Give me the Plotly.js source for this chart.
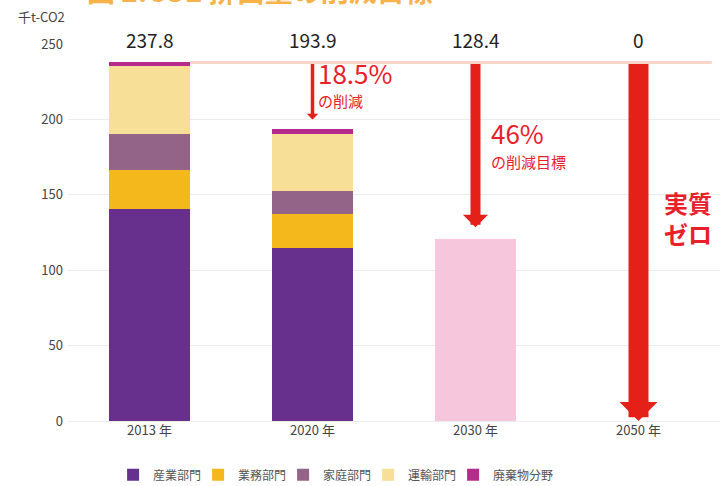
<!DOCTYPE html>
<html>
<head>
<meta charset="utf-8">
<script src="https://cdn.plot.ly/plotly-3.0.1.min.js"></script>
<style>html,body{margin:0;padding:0;background:#fff;}#chart{width:725px;height:486px;}</style>
</head>
<body>
<div id="chart"></div>
<script>
// ---- data ----
const years = ['2013 年', '2020 年', '2030 年', '2050 年'];
const stackYears = ['2013 年', '2020 年'];
const sectorNames = ['産業部門', '業務部門', '家庭部門', '運輸部門', '廃棄物分野'];
const industry = [140.5, 115.0];
const business = [26.0, 22.5];
const household = [24.0, 15.0];
const transport = [45.0, 38.0];
const waste = [2.3, 3.4];
const targetYear = ['2030 年'];
const target2030Bar = [120.5];
const totalLabels = ['237.8', '193.9', '128.4', '0'];
const totalValues = [237.8, 193.9, 128.4, 0];

const sectorColors = ['#66308c', '#f4b81c', '#946488', '#f7df97', '#b52a8a'];
const sectorValues = [industry, business, household, transport, waste];
const red = '#e52019';
const font = '"Noto Sans CJK JP", "Noto Sans", sans-serif';

const traces = sectorNames.map((name, i) => ({
  type: 'bar', name: name, x: stackYears, y: sectorValues[i],
  marker: {color: sectorColors[i], line: {width: 0}},
  hoverinfo: 'skip'
}));
traces.push({
  type: 'bar', name: '2030目標', x: targetYear, y: target2030Bar,
  marker: {color: '#f5c6dc', line: {width: 0}}, showlegend: false, hoverinfo: 'skip'
});
// invisible spacer entry so the last legend label is not clipped
traces.push({
  type: 'bar', name: '\u00a0', x: [years[0]], y: [0], visible: 'legendonly',
  marker: {color: 'rgba(0,0,0,0)', line: {width: 0}}, hoverinfo: 'skip'
});

const annotations = [];
// totals above bars
years.forEach((yr, i) => {
  annotations.push({
    x: yr, y: 250, xref: 'x', yref: 'y', text: totalLabels[i], showarrow: false,
    yanchor: 'middle', yshift: 5, font: {size: 19, color: '#222', family: font}
  });
});
// arrows
const arrowDefs = [
  {yr: years[1], tip: 200, w: 3.5, s: 0.55},
  {yr: years[2], tip: totalValues[2], w: 10, s: 0.42},
  {yr: years[3], tip: totalValues[3], w: 20, s: 0.317}
];
arrowDefs.forEach(a => {
  annotations.push({
    x: a.yr, y: a.tip, xref: 'x', yref: 'y', ax: a.yr, ay: totalValues[0], axref: 'x', ayref: 'y',
    text: '', showarrow: true, arrowhead: 1, arrowwidth: a.w, arrowsize: a.s, arrowcolor: red
  });
});
// reduction texts
const txtRed = '#e8202a';
annotations.push({x: years[1], y: 231.4, xref: 'x', yref: 'y', xanchor: 'left', yanchor: 'middle', xshift: 3,
  text: '18.5%', showarrow: false, font: {size: 26, color: txtRed, family: font}});
annotations.push({x: years[1], y: 212.4, xref: 'x', yref: 'y', xanchor: 'left', yanchor: 'middle', xshift: 3,
  text: 'の削減', showarrow: false, font: {size: 15, color: txtRed, family: font}});
annotations.push({x: years[2], y: 191.0, xref: 'x', yref: 'y', xanchor: 'left', yanchor: 'middle', xshift: 13,
  text: '46%', showarrow: false, font: {size: 26, color: txtRed, family: font}});
annotations.push({x: years[2], y: 171.8, xref: 'x', yref: 'y', xanchor: 'left', yanchor: 'middle', xshift: 13,
  text: 'の削減目標', showarrow: false, font: {size: 15, color: txtRed, family: font}});
annotations.push({x: years[3], y: 134.9, xref: 'x', yref: 'y', xanchor: 'left', yanchor: 'middle', xshift: 23,
  text: '<b>実質<br>ゼロ</b>', align: 'left', showarrow: false, font: {size: 24, color: txtRed, family: font}});
// unit
annotations.push({x: -0.005, y: 1.072, xref: 'paper', yref: 'paper', xanchor: 'right', yanchor: 'middle', xshift: 2,
  text: '千t-CO2', showarrow: false, font: {size: 13, color: '#444', family: font}});
// cut-off title
annotations.push({x: 0.026, y: 1.1326, xref: 'paper', yref: 'paper', xanchor: 'left', yanchor: 'middle', yshift: 4,
  text: '<b>図 2.CO2 排出量の削減目標</b>', showarrow: false, font: {size: 28, color: '#f7b24a', family: font}});

const layout = {
  width: 725, height: 486,
  margin: {l: 68, r: 5, t: 44, b: 65},
  paper_bgcolor: '#fff', plot_bgcolor: '#fff',
  barmode: 'stack', bargap: 0.5,
  font: {family: font, color: '#444', size: 13},
  xaxis: {type: 'category', categoryarray: years, categoryorder: 'array', range: [-0.5, 3.5],
    showgrid: false, showline: false, zeroline: false, ticks: '', tickfont: {size: 13, color: '#444'}},
  yaxis: {range: [0, 250], tickvals: [0, 50, 100, 150, 200, 250], showgrid: true, gridcolor: '#ececec',
    zeroline: true, zerolinecolor: '#ececec', showline: false, ticks: '', ticklabelstandoff: 4,
    tickfont: {size: 13, color: '#444'}},
  showlegend: true,
  legend: {orientation: 'h', xref: 'container', yref: 'container', x: 0.156, xanchor: 'left',
    y: 0.023, yanchor: 'middle', traceorder: 'normal', entrywidth: 40, entrywidthmode: 'pixels',
    font: {size: 12, color: '#555', family: font}, bgcolor: 'rgba(0,0,0,0)'},
  shapes: [{type: 'line', xref: 'x', yref: 'y', x0: 0.25, x1: 3.45, y0: totalValues[0], y1: totalValues[0],
    line: {color: '#fbd6c8', width: 3}, layer: 'below'}],
  annotations: annotations
};

Plotly.newPlot('chart', traces, layout, {displayModeBar: false, staticPlot: true});
</script>
</body>
</html>
